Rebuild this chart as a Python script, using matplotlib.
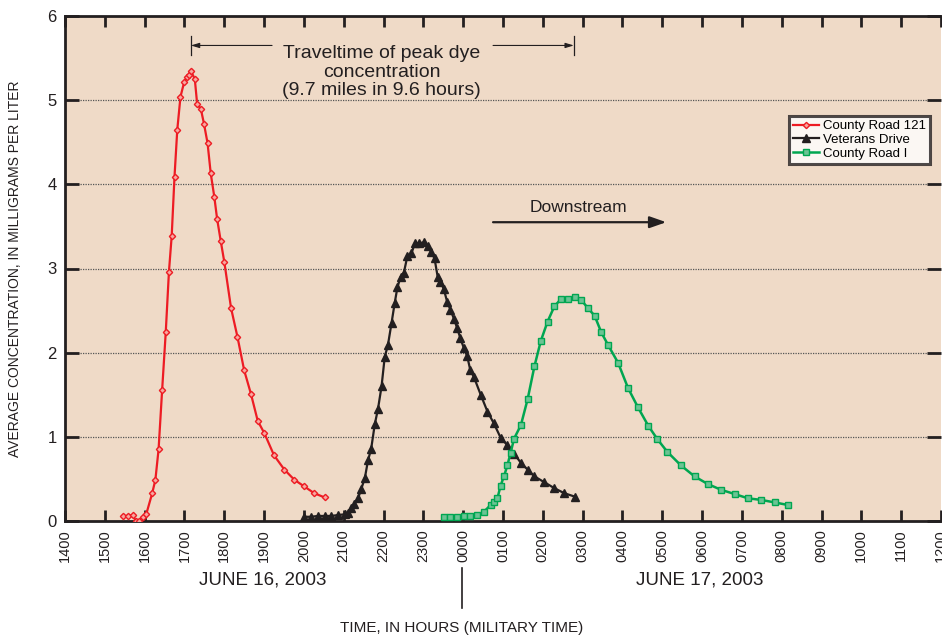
import matplotlib
matplotlib.use("Agg")
import matplotlib.pyplot as plt

# Hours counted from 0000 on June 16, 2003
cr121_hours = [15.45, 15.57, 15.70, 15.78, 15.85, 15.95, 16.04, 16.19, 16.27, 16.35,
               16.44, 16.53, 16.61, 16.68, 16.75, 16.82, 16.90, 16.99, 17.06, 17.11,
               17.16, 17.26, 17.32, 17.41, 17.49, 17.58, 17.66, 17.75, 17.82, 17.91,
               18.00, 18.17, 18.33, 18.50, 18.67, 18.84, 19.01, 19.25, 19.51, 19.76,
               20.01, 20.26, 20.52]
cr121_conc = [0.06, 0.06, 0.07, 0.00, 0.00, 0.05, 0.08, 0.33, 0.49, 0.85,
              1.56, 2.24, 2.96, 3.39, 4.09, 4.65, 5.04, 5.21, 5.27, 5.30,
              5.35, 5.25, 4.95, 4.90, 4.72, 4.49, 4.13, 3.85, 3.59, 3.33,
              3.08, 2.53, 2.19, 1.79, 1.51, 1.19, 1.04, 0.78, 0.61, 0.49,
              0.41, 0.33, 0.28]

vet_hours = [20.01, 20.18, 20.35, 20.52, 20.68, 20.85, 21.02, 21.10, 21.19, 21.27,
             21.36, 21.44, 21.53, 21.61, 21.69, 21.78, 21.86, 21.95, 22.03, 22.11,
             22.20, 22.28, 22.35, 22.43, 22.51, 22.60, 22.70, 22.79, 22.90, 23.01,
             23.11, 23.19, 23.28, 23.36, 23.43, 23.51, 23.60, 23.68, 23.77, 23.85,
             23.93, 24.02, 24.10, 24.18, 24.27, 24.44, 24.61, 24.77, 24.94, 25.11,
             25.28, 25.45, 25.62, 25.79, 26.04, 26.29, 26.54, 26.80]
vet_conc = [0.05, 0.05, 0.06, 0.06, 0.06, 0.07, 0.08, 0.10, 0.15, 0.20,
            0.27, 0.38, 0.51, 0.72, 0.86, 1.15, 1.33, 1.60, 1.95, 2.09,
            2.35, 2.59, 2.78, 2.90, 2.95, 3.15, 3.18, 3.30, 3.30, 3.31,
            3.27, 3.20, 3.12, 2.90, 2.84, 2.76, 2.60, 2.51, 2.40, 2.29,
            2.17, 2.05, 1.96, 1.79, 1.71, 1.50, 1.30, 1.16, 0.99, 0.90,
            0.80, 0.69, 0.61, 0.53, 0.46, 0.39, 0.33, 0.29]

cri_hours = [23.51, 23.68, 23.85, 24.02, 24.18, 24.35, 24.52, 24.69, 24.77, 24.86,
             24.94, 25.03, 25.11, 25.19, 25.28, 25.45, 25.62, 25.79, 25.95, 26.12,
             26.29, 26.46, 26.63, 26.80, 26.96, 27.13, 27.30, 27.47, 27.64, 27.89,
             28.14, 28.39, 28.65, 28.88, 29.13, 29.47, 29.81, 30.14, 30.48, 30.82,
             31.15, 31.49, 31.83, 32.16]
cri_conc = [0.05, 0.05, 0.05, 0.06, 0.06, 0.07, 0.11, 0.19, 0.23, 0.27,
            0.42, 0.54, 0.66, 0.81, 0.98, 1.14, 1.45, 1.84, 2.14, 2.37,
            2.55, 2.64, 2.64, 2.66, 2.63, 2.53, 2.44, 2.24, 2.09, 1.88,
            1.58, 1.35, 1.13, 0.97, 0.82, 0.66, 0.53, 0.44, 0.37, 0.32,
            0.27, 0.25, 0.22, 0.19]

tick_hours = list(range(14, 37))
tick_labels = ["%02d00" % (h % 24) for h in tick_hours]

series_names = ["County Road 121", "Veterans Drive", "County Road I"]

plt.rcParams["font.family"] = ["Liberation Sans", "DejaVu Sans"]

ink = "#231F20"
red = "#ED1C24"
green = "#00A651"
bg = "#EFDAC7"

fig = plt.figure(figsize=(9.42, 6.39), dpi=100)
ax = fig.add_axes([65 / 942, 1 - 521 / 639, 876 / 942, 505 / 639])
ax.set_facecolor(bg)

ax.plot(cr121_hours, cr121_conc, color=red, lw=1.6, marker="D", ms=3.2,
        mfc="#F7A8A0", mec=red, mew=1.0, label=series_names[0], zorder=3)
ax.plot(vet_hours, vet_conc, color=ink, lw=1.6, marker="^", ms=5.2,
        mfc=ink, mec=ink, label=series_names[1], zorder=3)
ax.plot(cri_hours, cri_conc, color=green, lw=1.8, marker="s", ms=4.8,
        mfc="#6CC394", mec=green, mew=1.0, label=series_names[2], zorder=3)

ax.set_xlim(14, 36)
ax.set_ylim(0, 6)
ax.set_xticks(tick_hours)
ax.set_xticklabels(tick_labels, rotation=90, fontsize=10.5, color=ink)
ax.set_yticks(range(0, 7))
ax.set_yticklabels([str(v) for v in range(0, 7)], fontsize=12, color=ink)
ax.tick_params(axis="x", direction="in", length=8, width=2, top=True, bottom=True,
               color=ink, pad=6)
ax.tick_params(axis="y", direction="in", length=10, width=2, left=True, right=True,
               color=ink, pad=6)
for y in range(1, 6):
    ax.axhline(y, color="#555555", lw=0.9, ls=(0, (1, 1)), zorder=1)
for s in ax.spines.values():
    s.set_linewidth(2)
    s.set_color(ink)
ax.spines["right"].set_visible(False)

ax.set_ylabel("AVERAGE CONCENTRATION, IN MILLIGRAMS PER LITER", fontsize=10,
              color=ink, labelpad=18)

leg = ax.legend(loc="upper right", bbox_to_anchor=(0.9875, 0.802), fontsize=9.5,
                frameon=True, fancybox=False, edgecolor=ink, facecolor="white",
                handlelength=2.0, handletextpad=0.3, borderpad=0.3,
                labelspacing=0.12, borderaxespad=0)
leg.get_frame().set_linewidth(2.2)

# travel time annotation
ax.text(21.95, 5.33, "Traveltime of peak dye\nconcentration\n(9.7 miles in 9.6 hours)",
        ha="center", va="center", fontsize=14, color=ink, linespacing=1.12)
ax.annotate("", xy=(17.16, 5.65), xytext=(19.2, 5.65),
            arrowprops=dict(arrowstyle="-|>,head_length=0.5,head_width=0.15", color=ink, lw=0.8,
                            shrinkA=0, shrinkB=0))
ax.annotate("", xy=(26.78, 5.65), xytext=(24.75, 5.65),
            arrowprops=dict(arrowstyle="-|>,head_length=0.5,head_width=0.15", color=ink, lw=0.8,
                            shrinkA=0, shrinkB=0))
ax.plot([17.16, 17.16], [5.54, 5.76], color=ink, lw=0.9)
ax.plot([26.78, 26.78], [5.54, 5.76], color=ink, lw=0.9)

# downstream arrow
ax.text(26.9, 3.72, "Downstream", ha="center", va="center", fontsize=12.5, color=ink)
ax.annotate("", xy=(29.1, 3.55), xytext=(24.75, 3.55),
            arrowprops=dict(arrowstyle="-|>,head_length=1.0,head_width=0.35", color=ink, lw=1.6,
                            shrinkA=0, shrinkB=0))

# date labels below
fig.text(263 / 942, 1 - 580 / 639, "JUNE 16, 2003", ha="center", va="center",
         fontsize=13.5, color=ink)
fig.text(700 / 942, 1 - 580 / 639, "JUNE 17, 2003", ha="center", va="center",
         fontsize=13.5, color=ink)
fig.text(462 / 942, 1 - 628 / 639, "TIME, IN HOURS (MILITARY TIME)", ha="center",
         va="center", fontsize=11, color=ink)
fig.add_artist(plt.Line2D([462 / 942, 462 / 942], [1 - 568 / 639, 1 - 608 / 639],
                          color=ink, lw=1.2))

fig.savefig("out.png", dpi=100, facecolor="white")
